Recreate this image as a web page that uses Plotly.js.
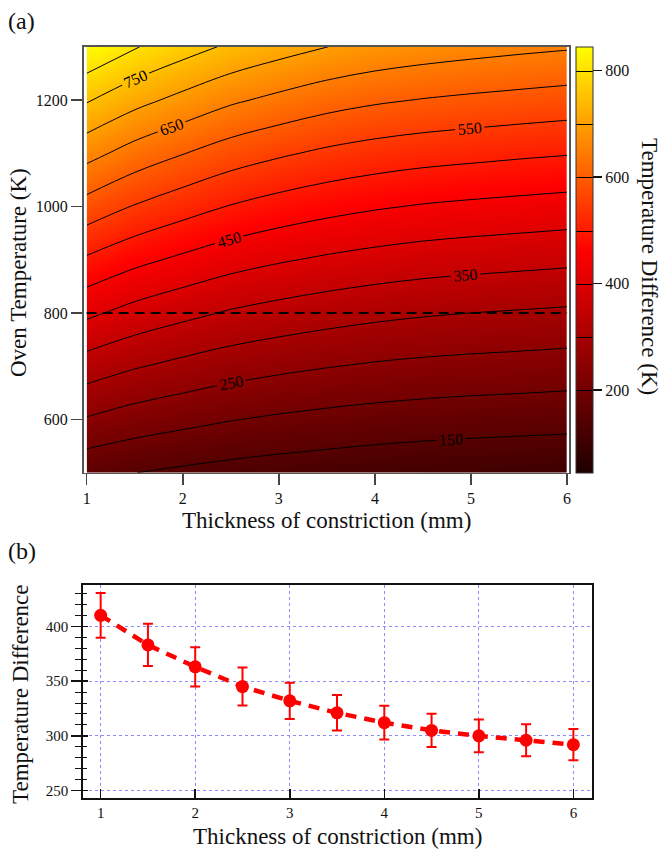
<!DOCTYPE html>
<html>
<head>
<meta charset="utf-8">
<script src="https://cdn.plot.ly/plotly-3.0.1.min.js"></script>
<style>html,body{margin:0;padding:0;background:#fff}#chart{width:662px;height:850px}</style>
</head>
<body>
<div id="chart"></div>
<script>
// ---- data ----
const thickness = [1, 1.5, 2, 2.5, 3, 3.5, 4, 4.5, 5, 5.5, 6];          // mm
const ovenTemp = [500, 600, 700, 800, 900, 1000, 1100, 1200, 1300];     // K
// Temperature difference (K), rows = ovenTemp, columns = thickness
const tempDiffGrid = [
  [163, 150.5, 141, 133, 127, 122, 117, 113, 110, 107.5, 105],
  [246, 227, 214, 202, 193, 186, 180, 175.5, 172, 169.5, 167],
  [327, 304, 287, 272, 261, 252, 244.5, 239, 235, 232, 228.5],
  [410, 383, 363, 345, 332, 321, 312, 305, 300, 296, 292],
  [493, 463, 440.5, 420, 405, 393, 383, 375, 369.5, 365, 360.5],
  [581, 547, 521, 497.5, 480, 466, 455, 446.5, 440.5, 435.5, 430.5],
  [667, 630, 602, 576, 557, 541, 529, 520, 514, 508, 503],
  [755, 716, 686, 658, 638, 620, 607, 598, 591, 585, 579],
  [845, 803.5, 771, 742, 720, 700.5, 686, 676, 668, 661, 655]
];
const sliceOvenTemp = 800;
const sliceThickness = [1, 1.5, 2, 2.5, 3, 3.5, 4, 4.5, 5, 5.5, 6];
const sliceTempDiff = [410, 383, 363, 345, 332, 321, 312, 305, 300, 296, 292];
const sliceError = [20.5, 19.3, 18, 17.3, 16.6, 16.2, 15.4, 15.1, 15, 14.7, 14.3];
const xTicksTop = [1, 2, 3, 4, 5, 6];
const yTicksTop = [600, 800, 1000, 1200];
const cbTicks = [200, 400, 600, 800];
const yTicksBottom = [250, 300, 350, 400];

const serif = "'Liberation Serif', 'Times New Roman', Times, serif";
const heatScale = [[0, '#1e0000'], [0.52, '#ff0000'], [1, '#ffff00']];

const traces = [
  {
    type: 'contour', x: thickness, y: ovenTemp, z: tempDiffGrid,
    xaxis: 'x', yaxis: 'y',
    zmin: 45, zmax: 845, colorscale: heatScale, autocontour: false,
    contours: {coloring: 'heatmap', start: 200, end: 800, size: 100, showlabels: false},
    line: {color: 'black', width: 1, smoothing: 1},
    hoverinfo: 'skip',
    colorbar: {
      x: 575.7 / 662, xanchor: 'left', xpad: 0,
      y: 1 - 46.7 / 850, yanchor: 'top', ypad: 0,
      len: 426, lenmode: 'pixels', thickness: 17, thicknessmode: 'pixels',
      outlinewidth: 1, outlinecolor: '#333', borderwidth: 0,
      ticks: 'outside', ticklen: 9, tickwidth: 1.5, tickcolor: '#111',
      tickvals: cbTicks, tickfont: {family: serif, size: 16, color: '#111'}
    }
  },
  {
    type: 'contour', x: thickness, y: ovenTemp, z: tempDiffGrid,
    xaxis: 'x', yaxis: 'y', showscale: false, autocontour: false,
    contours: {coloring: 'none', start: 150, end: 750, size: 100, showlabels: true,
      labelfont: {family: serif, size: 16, color: 'black'}},
    line: {color: 'black', width: 1, smoothing: 1},
    hoverinfo: 'skip'
  },
  {
    type: 'scatter', mode: 'lines', xaxis: 'x', yaxis: 'y',
    x: [thickness[0], thickness[thickness.length - 1]],
    y: [sliceOvenTemp, sliceOvenTemp],
    line: {color: 'black', width: 2, dash: '10px,6px'}, hoverinfo: 'skip'
  },
  {
    type: 'scatter', mode: 'lines+markers', xaxis: 'x2', yaxis: 'y2',
    x: sliceThickness, y: sliceTempDiff,
    line: {color: '#ff0000', width: 4.5, dash: '11px,8px'},
    marker: {color: '#ff0000', size: 13},
    error_y: {type: 'data', array: sliceError, color: '#ff0000', thickness: 2, width: 5}
  },
  { type: 'scatter', mode: 'markers', xaxis: 'x2', yaxis: 'y3', x: [], y: [], hoverinfo: 'skip' }
];

const axisFont = {family: serif, size: 23, color: '#111'};

const layout = {
  width: 662, height: 850, margin: {l: 0, r: 0, t: 0, b: 0},
  paper_bgcolor: 'white', plot_bgcolor: 'white', showlegend: false,
  font: {family: serif, color: '#111'},
  xaxis: {
    domain: [83.5 / 662, 569 / 662], anchor: 'y', range: [0.967, 6.02],
    tickvals: xTicksTop, ticks: 'outside', ticklen: 11, tickwidth: 1.5, tickcolor: '#444',
    showline: true, linecolor: '#555', linewidth: 1.5, mirror: true,
    showgrid: false, zeroline: false, tickfont: {family: serif, size: 16, color: '#111'}
  },
  yaxis: {
    domain: [1 - 472.7 / 850, 1 - 46.7 / 850], anchor: 'x', range: [500, 1300],
    tickvals: yTicksTop, ticks: 'outside', ticklen: 11, tickwidth: 1.5, tickcolor: '#444',
    showline: true, linecolor: '#555', linewidth: 1.5, mirror: true,
    showgrid: false, zeroline: false, tickfont: {family: serif, size: 16, color: '#111'}
  },
  xaxis2: {
    domain: [82.7 / 662, 592.3 / 662], anchor: 'y2', range: [0.81, 6.2],
    tickvals: xTicksTop, ticks: 'inside', ticklen: 9, tickwidth: 1.5, tickcolor: '#111',
    showline: true, linecolor: '#111', linewidth: 1.5, mirror: true,
    showgrid: true, gridcolor: '#8c8cff', griddash: 'dot', gridwidth: 1,
    zeroline: false, tickfont: {family: serif, size: 15, color: '#111'}
  },
  yaxis2: {
    domain: [1 - 798.3 / 850, 1 - 584.7 / 850], anchor: 'x2', range: [243, 438],
    tickvals: yTicksBottom, ticks: 'outside', ticklen: 10, tickwidth: 1.5, tickcolor: '#111',
    minor: {dtick: 10, ticks: 'outside', ticklen: 6, tickwidth: 1, tickcolor: '#111', showgrid: false},
    showline: true, linecolor: '#111', linewidth: 1.5, mirror: true,
    showgrid: true, gridcolor: '#8c8cff', griddash: 'dot', gridwidth: 1,
    zeroline: false, tickfont: {family: serif, size: 15, color: '#111'}
  },
  yaxis3: {
    overlaying: 'y2', anchor: 'x2', range: [243, 438], tickvals: yTicksBottom,
    ticks: 'inside', ticklen: 5, tickwidth: 1.5, tickcolor: '#111',
    minor: {dtick: 10, ticks: 'inside', ticklen: 4, tickwidth: 1, tickcolor: '#111', showgrid: false},
    showticklabels: false, showgrid: false, showline: false, zeroline: false
  },
  annotations: [
    {text: '(a)', x: 21 / 662, y: 1 - 21 / 850, xref: 'paper', yref: 'paper', showarrow: false,
     xanchor: 'center', yanchor: 'middle', font: {family: serif, size: 24, color: '#111'}},
    {text: '(b)', x: 22 / 662, y: 1 - 551 / 850, xref: 'paper', yref: 'paper', showarrow: false,
     xanchor: 'center', yanchor: 'middle', font: {family: serif, size: 24, color: '#111'}},
    {text: 'Thickness of constriction (mm)', x: 326 / 662, y: 1 - 520 / 850, xref: 'paper', yref: 'paper',
     showarrow: false, xanchor: 'center', yanchor: 'middle', font: axisFont},
    {text: 'Oven Temperature (K)', x: 18 / 662, y: 1 - 273 / 850, xref: 'paper', yref: 'paper',
     showarrow: false, xanchor: 'center', yanchor: 'middle', textangle: -90, font: axisFont},
    {text: 'Temperature Difference (K)', x: 650 / 662, y: 1 - 266 / 850, xref: 'paper', yref: 'paper',
     showarrow: false, xanchor: 'center', yanchor: 'middle', textangle: 90, font: axisFont},
    {text: 'Temperature Difference', x: 20 / 662, y: 1 - 694 / 850, xref: 'paper', yref: 'paper',
     showarrow: false, xanchor: 'center', yanchor: 'middle', textangle: -90, font: axisFont},
    {text: 'Thickness of constriction (mm)', x: 337.5 / 662, y: 1 - 836 / 850, xref: 'paper', yref: 'paper',
     showarrow: false, xanchor: 'center', yanchor: 'middle', font: axisFont}
  ]
};

Plotly.newPlot('chart', traces, layout, {displayModeBar: false, staticPlot: true});
</script>
</body>
</html>
